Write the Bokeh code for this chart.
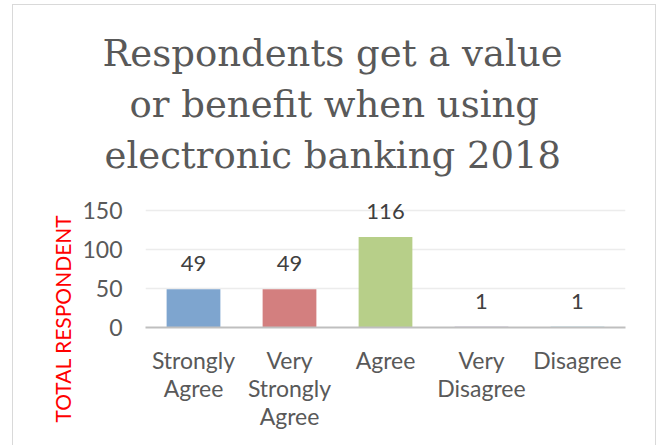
from bokeh.plotting import figure
from bokeh.models import ColumnDataSource, Range1d, FactorRange, LabelSet, Title, FixedTicker
from bokeh.core.properties import value
from bokeh.embed import file_html
from bokeh.resources import INLINE

# ---- data ----
categories = ["Strongly\nAgree", "Very\nStrongly\nAgree", "Agree", "Very\nDisagree", "Disagree"]
values = [49, 49, 116, 1, 1]
bar_colors = ["#7ea5cf", "#d37f7f", "#b7cf89", "#8e7cb0", "#6fb8cc"]
y_ticks = [0, 50, 100, 150]
title_lines = ["Respondents get a value", "or benefit when using", "electronic banking 2018"]
y_label = "TOTAL RESPONDENT"

src = ColumnDataSource(dict(cat=categories, val=values, color=bar_colors,
                            label=[str(v) for v in values]))

p = figure(width=642, height=440, title=None,
           x_range=FactorRange(*categories, range_padding=0),
           y_range=Range1d(0, 165.4),
           output_backend="svg", toolbar_location=None, tools="",
           min_border_left=132, min_border_right=30,
           min_border_top=193, min_border_bottom=118)
p.margin = (5, 0, 0, 13)
p.styles = {"outline": "1.5px solid #d9d9d9"}
p.outline_line_color = None
p.background_fill_color = "white"
p.border_fill_color = "white"

p.vbar(x="cat", top="val", width=0.56, color="color", source=src, line_color=None)

labels = LabelSet(x="cat", y="val", text="label", source=src, text_align="center",
                  text_baseline="alphabetic", y_offset=18, text_font=value("Lato"),
                  text_font_size="22px", text_color="#404040")
p.add_layout(labels)

# small spacer between the plot body and the title block
p.add_layout(Title(text=" ", text_font_size="1px", standoff=16), "above")

# title: one Title per line, nearest line first; left-aligned with pixel offsets
# so that every line is centred over the whole chart box
title_offsets = [-43, -16, -41]
for line, off in reversed(list(zip(title_lines, title_offsets))):
    p.add_layout(Title(text=line, align="left", offset=off, standoff=6,
                       text_font="DejaVu Serif", text_font_size="37px",
                       text_font_style="normal", text_color="#595959"), "above")

# y axis label as a left title so it can sit lower than the frame centre
p.add_layout(Title(text=y_label, align="left", offset=-95, standoff=10,
                   text_font="Lato", text_font_size="21px", text_font_style="normal",
                   text_color="#ff0000"), "left")

# y axis
p.yaxis.ticker = FixedTicker(ticks=y_ticks)
p.yaxis.axis_line_color = None
p.yaxis.major_tick_line_color = None
p.yaxis.minor_tick_line_color = None
p.yaxis.major_tick_out = 0
p.yaxis.major_label_standoff = 23
p.yaxis.major_label_text_font = "Lato"
p.yaxis.major_label_text_font_size = "23px"
p.yaxis.major_label_text_color = "#595959"

# x axis
p.xaxis.axis_line_color = "#bfbfbf"
p.xaxis.axis_line_width = 2
p.xaxis.major_tick_line_color = None
p.xaxis.minor_tick_line_color = None
p.xaxis.major_tick_out = 0
p.xaxis.major_label_standoff = 18
p.xaxis.major_label_text_font = "Lato"
p.xaxis.major_label_text_font_size = "23px"
p.xaxis.major_label_text_line_height = 1.0
p.xaxis.major_label_text_color = "#595959"
p.xaxis.major_label_orientation = "horizontal"

p.xgrid.grid_line_color = None
p.ygrid.ticker = FixedTicker(ticks=y_ticks)
p.ygrid.grid_line_color = "#ececec"
p.ygrid.grid_line_width = 1.5

open("out.html", "w").write(file_html(p, INLINE))
